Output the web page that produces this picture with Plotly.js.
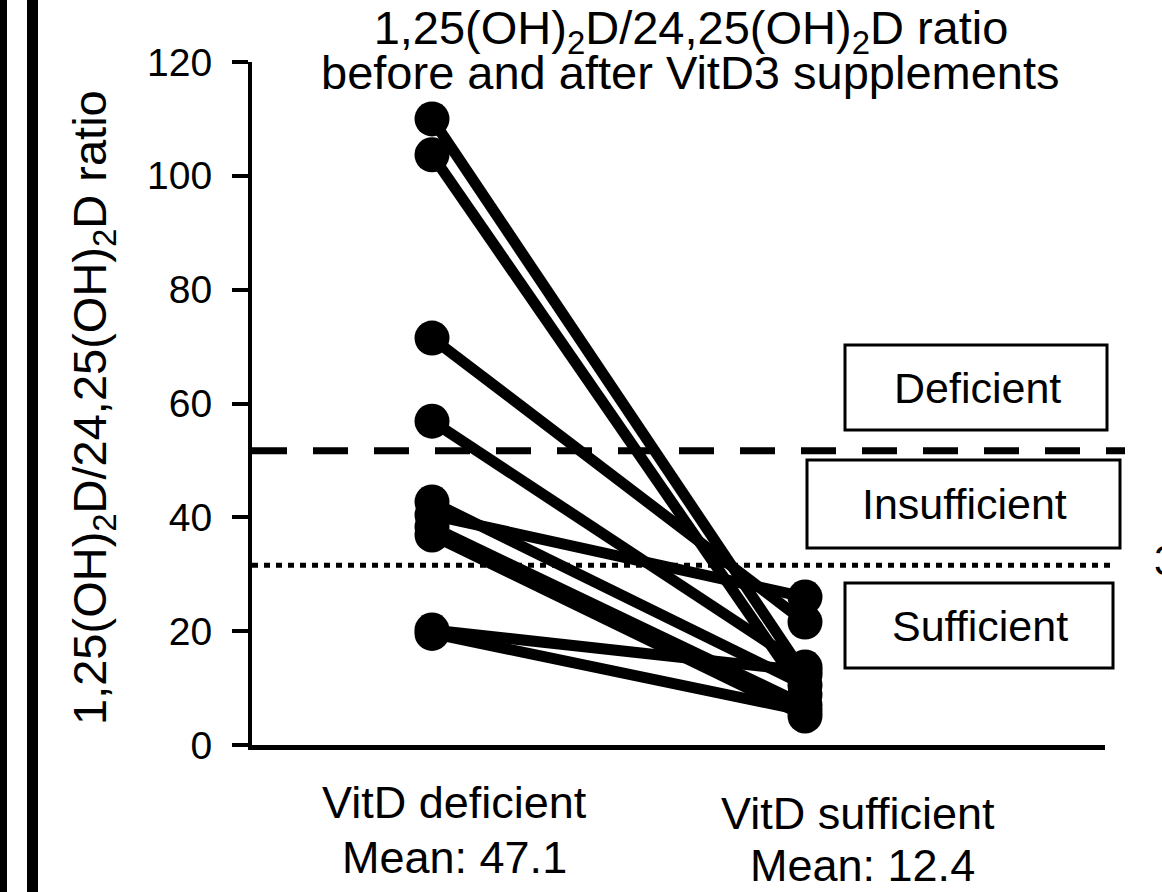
<!DOCTYPE html>
<html><head><meta charset="utf-8">
<script src="https://cdn.plot.ly/plotly-3.0.1.min.js"></script>
<style>html,body{margin:0;padding:0;background:#fff;}#chart{width:1162px;height:892px;}</style>
</head><body><div id="chart"></div>
<script>
// ---- data ----
const groups = ["VitD deficient", "VitD sufficient"];
const groupMeans = ["Mean: 47.1", "Mean: 12.4"];
const ratioBefore = [110.0, 103.7, 71.5, 56.9, 42.7, 40.4, 38.3, 36.9, 20.2, 19.6];
const ratioAfter  = [12.3, 8.8, 21.6, 13.7, 10.5, 26.0, 7.0, 5.1, 13.0, 6.0];
const thresholdValues = [51.7, 31.6];
const statusLabels = ["Deficient", "Insufficient", "Sufficient"];
const yTicks = [0, 20, 40, 60, 80, 100, 120];
const titleLines = ["1,25(OH)<sub>2</sub>D/24,25(OH)<sub>2</sub>D ratio", "before and after VitD3 supplements"];
const yTitle = "1,25(OH)<sub>2</sub>D/24,25(OH)<sub>2</sub>D ratio";
const edgeLabels = ["50", "30"];

// ---- geometry helpers (pixels -> paper) ----
const W = 1162, H = 892, L = 252, R = 1105, T = 62, B = 745;
const px = p => (p - L) / (R - L);
const py = p => (B - p) / (B - T);
const FONT = "Arial, 'Liberation Sans', sans-serif";

const traces = ratioBefore.map((v, i) => ({
  type: "scatter", mode: "lines+markers",
  x: [groups[0], groups[1]], y: [v, ratioAfter[i]],
  line: {color: "#000", width: 11},
  marker: {color: "#000", size: 35},
  hoverinfo: "y", showlegend: false, cliponaxis: false
}));

const shapes = [
  // left border bars
  {type: "rect", xref: "paper", yref: "paper", x0: px(0), x1: px(7), y0: py(H), y1: py(0), fillcolor: "#000", line: {width: 0}},
  {type: "rect", xref: "paper", yref: "paper", x0: px(27), x1: px(38), y0: py(H), y1: py(0), fillcolor: "#000", line: {width: 0}},
  // threshold lines
  {type: "line", xref: "paper", yref: "y", x0: 0, x1: px(1125), y0: thresholdValues[0], y1: thresholdValues[0], line: {color: "#000", width: 7, dash: "35px,26px"}, layer: "below"},
  {type: "line", xref: "paper", yref: "y", x0: 0, x1: px(1114), y0: thresholdValues[1], y1: thresholdValues[1], line: {color: "#000", width: 5, dash: "6px,6px"}, layer: "below"},
  // status boxes
  {type: "rect", xref: "paper", yref: "paper", x0: px(845), x1: px(1107), y0: py(430), y1: py(345), line: {color: "#000", width: 3}, fillcolor: "#fff"},
  {type: "rect", xref: "paper", yref: "paper", x0: px(807), x1: px(1120), y0: py(548), y1: py(460), line: {color: "#000", width: 3}, fillcolor: "#fff"},
  {type: "rect", xref: "paper", yref: "paper", x0: px(845), x1: px(1113), y0: py(668), y1: py(583), line: {color: "#000", width: 3}, fillcolor: "#fff"}
];

const ann = (text, x, y, size, extra) => Object.assign({
  text: text, xref: "paper", yref: "paper", x: px(x), y: py(y),
  xanchor: "center", yanchor: "middle", showarrow: false,
  font: {family: FONT, size: size, color: "#000"}
}, extra || {});

const annotations = [
  ann(titleLines[1], 690, 73, 47),
  ann(groups[0], 454, 802, 45),
  ann(groupMeans[0], 454, 857, 45),
  ann(groups[1], 858, 813, 45),
  ann(groupMeans[1], 862, 865, 45),
  ann(statusLabels[0], 977, 388, 43),
  ann(statusLabels[1], 964, 504, 43),
  ann(statusLabels[2], 980, 626, 43),
  ann(yTitle, 93, 408, 47, {textangle: -90}),
  ann(edgeLabels[1], 1152, 560, 42, {xanchor: "left"})
];

const layout = {
  width: W, height: H,
  margin: {l: L, r: W - R, t: T, b: H - B, pad: 0},
  paper_bgcolor: "#fff", plot_bgcolor: "#fff",
  title: {text: titleLines[0], font: {family: FONT, size: 47, color: "#000"},
          x: px(691), xref: "paper", xanchor: "center", y: 1 - 28 / H, yref: "container", yanchor: "middle"},
  xaxis: {type: "category", range: [(L - 432) / 373, 1 + (R - 805) / 373],
          showline: true, linewidth: 5, linecolor: "#000", ticks: "", showticklabels: false,
          showgrid: false, zeroline: false, fixedrange: true},
  yaxis: {range: [0, 120], tickvals: yTicks, ticktext: yTicks.map(String),
          showline: true, linewidth: 4, linecolor: "#000", ticks: "outside", ticklen: 16, tickwidth: 4, tickcolor: "#000",
          tickfont: {family: FONT, size: 39, color: "#000"}, ticklabelstandoff: 12,
          showgrid: false, zeroline: false, fixedrange: true},
  shapes: shapes,
  annotations: annotations,
  showlegend: false
};

Plotly.newPlot("chart", traces, layout, {displayModeBar: false, staticPlot: true});
</script></body></html>
